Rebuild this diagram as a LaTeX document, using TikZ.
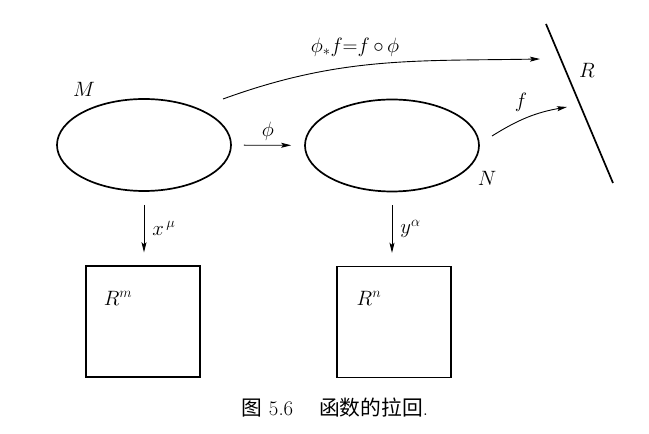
\documentclass[tikz,border=0pt]{standalone}
\usepackage{fontspec}
\newfontfamily\cjk{Noto Sans CJK SC}
\usepackage{tikz}
\usetikzlibrary{arrows.meta,positioning,shapes.geometric}

\tikzset{
  lbl/.style={font=\fontsize{20.74}{24}\selectfont,inner sep=1pt},
  manifold/.style={draw,ellipse,line width=1.7pt,minimum width=174pt,
                   minimum height=92pt,inner sep=0pt},
  chart/.style={draw,rectangle,line width=1.4pt,minimum width=114pt,
                minimum height=111pt,inner sep=0pt},
  mapto/.style={line width=0.9pt,-{Stealth[length=10pt,width=5pt,inset=2pt]}}
}

\begin{document}
\begin{tikzpicture}[x=1pt,y=1pt]
\useasboundingbox (0,0) rectangle (649,434);
% Manifolds
\node[manifold] (M) at (144,289) {};
\node[manifold] (N) at (392,288.5) {};
\node[lbl] (Mlab) at (84,345) {$M$};
\node[lbl] (Nlab) at (487,256) {$N$};
% Target line R
\coordinate (Rtop) at (546,410);
\coordinate (Rbot) at (613,251);
\draw[line width=1.7pt] (Rtop) -- (Rbot);
\node[lbl] (Rlab) at (587,364) {$R$};
% Charts
\node[chart] (Rm) at (143,112.5) {};
\node[chart] (Rn) at (394,112) {};
\node[lbl] (Rmlab) at (118,136) {$R^m$};
\node[lbl] (Rnlab) at (369,136) {$R^n$};
% Maps
\draw[mapto,shorten <=12pt,shorten >=13pt] (M) -- (N)
  node[lbl,midway,above=3pt] (philab) {$\phi$};
\draw[mapto,shorten <=13pt,shorten >=13pt] (M.south) -- (M.south |- Rm.north)
  node[lbl,midway,right=7pt] (xlab) {$x^{\,\mu}$};
\draw[mapto,shorten <=13pt,shorten >=13pt] (N.south) -- (N.south |- Rn.north)
  node[lbl,midway,right=7pt] (ylab) {$y^{\alpha}$};
% Pull back and f
\coordinate (pbstart) at (223,335);
\coordinate (pbend) at (540,375);
\draw[mapto] (pbstart) to[out=20,in=181] (pbend);
\node[lbl] (pblab) at (355,387) {$\phi_{*}f{=}f\,{\circ}\,\phi$};
\coordinate (fstart) at (492,298);
\coordinate (fend) at (567,327);
\draw[mapto] (fstart) to[out=32,in=190] (fend);
\node[lbl] (flab) at (521,332) {$f$};
% Caption
\node[font=\fontsize{20.74}{24}\selectfont] (cap) at (335,26)
  {{\cjk 图} 5.6\hspace{1.25em}{\cjk 函数的拉回}.};
\end{tikzpicture}
\end{document}
